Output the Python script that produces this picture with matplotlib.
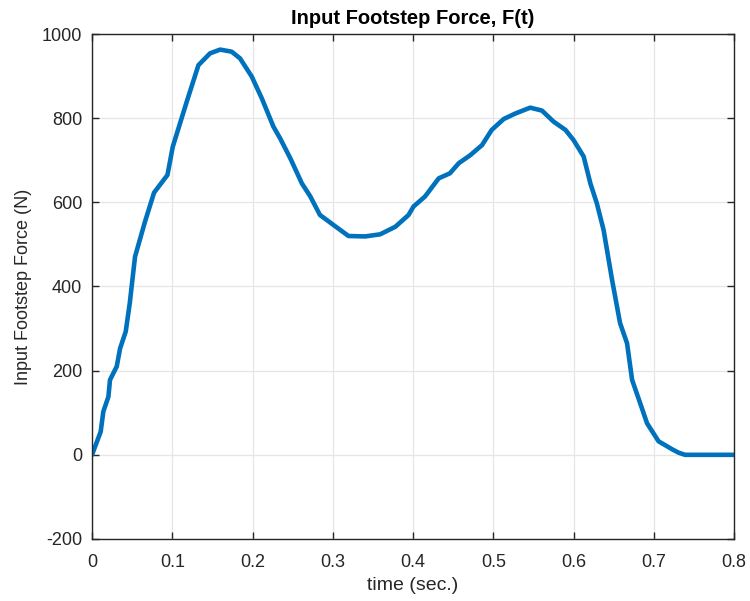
import matplotlib
matplotlib.use("Agg")
import matplotlib.pyplot as plt

# Footstep force samples: time (s) and force (N)
time_s = [0.0, 0.0108, 0.0141, 0.0204, 0.0224, 0.0308, 0.035, 0.042, 0.047, 0.0536,
          0.066, 0.0773, 0.094, 0.1006, 0.1097, 0.118, 0.1326, 0.147, 0.1596, 0.174,
          0.1845, 0.199, 0.2116, 0.226, 0.2344, 0.247, 0.2615, 0.272, 0.284, 0.301,
          0.3196, 0.3404, 0.359, 0.378, 0.3944, 0.4006, 0.415, 0.432, 0.446, 0.457,
          0.4713, 0.486, 0.498, 0.513, 0.5274, 0.546, 0.5607, 0.575, 0.59, 0.600,
          0.6126, 0.621, 0.629, 0.6375, 0.648, 0.658, 0.6667, 0.673, 0.683, 0.6916,
          0.706, 0.715, 0.723, 0.731, 0.739, 0.8]
force_n = [0, 55, 103, 138, 178, 210, 253, 293, 360, 471,
           554, 623, 665, 732, 788, 839, 926, 954, 963, 958,
           942, 899, 847, 780, 752, 705, 645, 614, 570, 546,
           520, 519, 524, 542, 570, 590, 614, 657, 669, 693,
           712, 736, 772, 798, 811, 825, 818, 792, 772, 748,
           709, 645, 598, 534, 416, 313, 265, 178, 123, 75,
           32, 22, 13, 5, 0, 0]

x_ticks = [0, 0.1, 0.2, 0.3, 0.4, 0.5, 0.6, 0.7, 0.8]
y_ticks = [-200, 0, 200, 400, 600, 800, 1000]

plt.rcParams['font.family'] = ['Liberation Sans', 'DejaVu Sans']
plt.rcParams['axes.unicode_minus'] = False

fig = plt.figure(figsize=(7.5, 6.01), dpi=100)
ax = fig.add_axes([0.1227, 0.1032, 0.856, 0.8402])

ax.plot(time_s, force_n, color='#0072BD', linewidth=3.3,
        solid_joinstyle='round', solid_capstyle='round')

ax.set_xlim(0, 0.8)
ax.set_ylim(-200, 1000)
ax.set_xticks(x_ticks)
ax.set_xticklabels([f"{v:g}" for v in x_ticks])
ax.set_yticks(y_ticks)
ax.grid(True, color='#e6e6e6', linewidth=0.9)
ax.set_axisbelow(True)

ax.tick_params(direction='in', length=5, width=1, top=True, right=True,
               labelsize=13, colors='#262626')
ax.tick_params(axis='x', pad=11)
ax.tick_params(axis='y', pad=7)
for s in ax.spines.values():
    s.set_color('#262626')
    s.set_linewidth(1.0)

ax.set_xlabel('time (sec.)', fontsize=14, color='#262626', labelpad=4)
ax.set_ylabel('Input Footstep Force (N)', fontsize=13, color='#262626', labelpad=7)
ax.set_title('Input Footstep Force, F(t)', fontsize=14.5, fontweight='bold', pad=7)

fig.savefig('out.png', dpi=100, facecolor='white')
